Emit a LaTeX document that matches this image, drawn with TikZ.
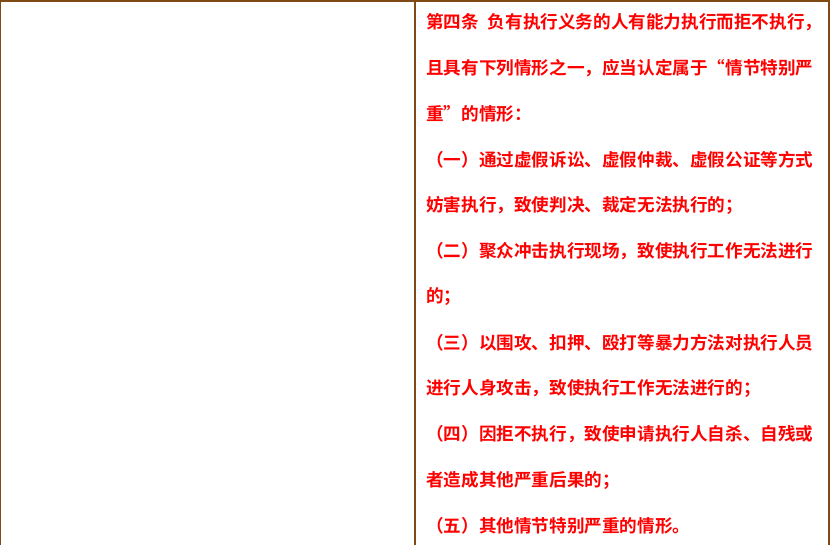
\documentclass[tikz,border=0pt]{standalone}
\usepackage{fontspec}
\newfontfamily\cjk{Noto Sans CJK SC Bold}
\definecolor{brn}{HTML}{7F4A14}
\begin{document}
\begin{tikzpicture}[x=1pt,y=1pt,
  txt/.style={anchor=west,inner sep=0pt,text=red,font=\cjk\fontsize{17.6}{19}\selectfont}]
\useasboundingbox (0,0) rectangle (830,545);
\draw[brn,line width=1.2pt] (0.6,0) -- (0.6,544) -- (829,544) -- (829,0);
\draw[brn,line width=1.2pt] (415,0) -- (415,544);
\foreach \i/\t in {
1/{第四条\hspace{0.5em}负有执行义务的人有能力执行而拒不执行，},
2/{且具有下列情形之一，应当认定属于“情节特别严},
3/{重”的情形：},
4/{（一）通过虚假诉讼、虚假仲裁、虚假公证等方式},
5/{妨害执行，致使判决、裁定无法执行的；},
6/{（二）聚众冲击执行现场，致使执行工作无法进行},
7/{的；},
8/{（三）以围攻、扣押、殴打等暴力方法对执行人员},
9/{进行人身攻击，致使执行工作无法进行的；},
10/{（四）因拒不执行，致使申请执行人自杀、自残或},
11/{者造成其他严重后果的；},
12/{（五）其他情节特别严重的情形。}}
  \node[txt] (l\i) at (426,{545-22-(\i-1)*45.8}) {\t};
\end{tikzpicture}
\end{document}
